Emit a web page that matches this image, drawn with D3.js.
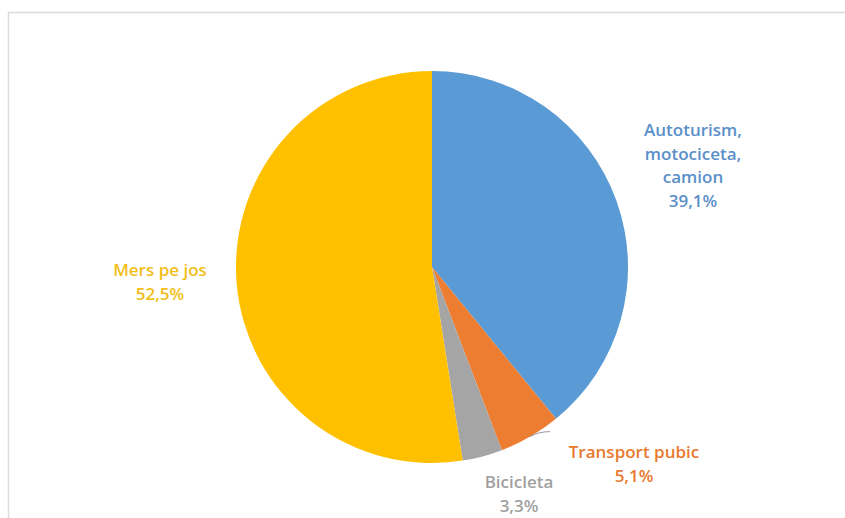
<!DOCTYPE html>
<html><head><meta charset="utf-8">
<script src="https://cdn.jsdelivr.net/npm/d3@7"></script>
<style>body{margin:0;background:#fff;}svg{display:block;}</style>
</head><body>
<svg id="c" width="845" height="518"></svg>
<script>
const categories = ["Autoturism, motociceta, camion", "Transport pubic", "Bicicleta", "Mers pe jos"];
const values = [39.1, 5.1, 3.3, 52.5];
const valueLabels = ["39,1%", "5,1%", "3,3%", "52,5%"];
const labelLines = [["Autoturism,", "motociceta,", "camion"], ["Transport pubic"], ["Bicicleta"], ["Mers pe jos"]];
const colors = ["#5B9BD5", "#ED7D31", "#A5A5A5", "#FFC000"];
const textColors = ["#5B8FC9", "#E8792F", "#A0A0A0", "#F2BE1A"];

const svg = d3.select("#c");
svg.append("rect").attr("x", 8.5).attr("y", 12.5).attr("width", 860).attr("height", 530)
  .attr("fill", "#fff").attr("stroke", "#dcdcdc").attr("stroke-width", 1.5);

const cx = 432, cy = 267, r = 196;
const g = svg.append("g").attr("transform", `translate(${cx},${cy})`);
const pie = d3.pie().sort(null).value(d => d)(values);
const arc = d3.arc().innerRadius(0).outerRadius(r);
g.selectAll("path").data(pie).enter().append("path")
  .attr("d", arc).attr("fill", (d, i) => colors[i]);

// leader line for Transport pubic
const a1 = (pie[1].startAngle + pie[1].endAngle) / 2;
const p0 = [Math.sin(a1) * r * 1.0, -Math.cos(a1) * r * 1.0];
g.append("path")
  .attr("d", `M${p0[0]},${p0[1]} Q${p0[0] + 8},${p0[1] - 5} ${p0[0] + 20},${p0[1] - 5}`)
  .attr("fill", "none").attr("stroke", "#9a9a9a").attr("stroke-width", 1);

// label positions (absolute, centered)
const labelPos = [[693, 130], [634, 452], [519, 482], [160, 270]];
const lh = 23.5;
categories.forEach((c, i) => {
  const lines = labelLines[i].concat([valueLabels[i]]);
  const t = svg.append("text").attr("text-anchor", "middle")
    .attr("font-family", "'Open Sans', sans-serif").attr("font-size", 17)
    .attr("font-weight", 600)
    .attr("fill", textColors[i]);
  lines.forEach((l, j) => {
    t.append("tspan").attr("x", labelPos[i][0]).attr("y", labelPos[i][1] + j * lh + 6).text(l);
  });
});
</script>
</body></html>
